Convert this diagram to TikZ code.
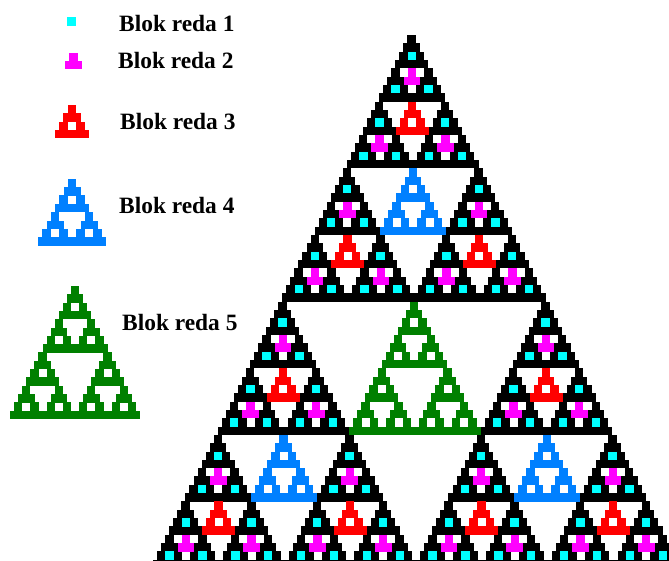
\documentclass[tikz,border=0pt]{standalone}
\usepackage{fontspec}
\setmainfont{Liberation Serif}
\usepackage{tikz}

\definecolor{blok4}{RGB}{0,255,255}
\definecolor{blok8}{RGB}{255,0,255}
\definecolor{blok16}{RGB}{255,0,0}
\definecolor{blok32}{RGB}{0,128,255}
\definecolor{blok64}{RGB}{0,128,0}

\def\lean{0}

% size, x (half cells), y (rows), colour
\newcommand{\sierp}[4]{%
  \ifnum\numexpr#1\relax=1
    \fill[#4] ({(#2)/2-0.5+\lean*(#3)},{#3}) rectangle ++(1.02,1.02);
  \else
    \sierp{(#1)/2}{#2}{#3}{#4}%
    \sierp{(#1)/2}{#2-(#1)/2}{#3+(#1)/2}{#4}%
    \sierp{(#1)/2}{#2+(#1)/2}{#3+(#1)/2}{#4}%
  \fi}

% black triangle, with a coloured block in the top of every hole
\newcommand{\pascalblok}[3]{%
  \ifnum\numexpr#1\relax=1
    \fill[black] ({(#2)/2-0.5+\lean*(#3)},{#3}) rectangle ++(1.02,1.02);
  \else
    \pascalblok{(#1)/2}{#2}{#3}%
    \pascalblok{(#1)/2}{#2-(#1)/2}{#3+(#1)/2}%
    \pascalblok{(#1)/2}{#2+(#1)/2}{#3+(#1)/2}%
    \ifnum\numexpr#1\relax>2
      \edef\blokcol{blok\the\numexpr#1\relax}%
      \sierp{(#1)/4}{#2}{#3+(#1)/2}{\blokcol}%
    \fi
  \fi}

\begin{document}
\begin{tikzpicture}[
    x=1pt,
    y=-1pt,
    bloklabel/.style={anchor=base west, inner sep=0pt, font=\fontsize{23.4}{27}\selectfont\bfseries},
    grid/.style n args={4}{shift={(#1,#2)}, x=#3pt, y=-#4pt}
]

    \useasboundingbox (0,0) rectangle (669,560);
    \clip (0,0) rectangle (669,560);

    % Main triangle (leans a little to the right)
    \begin{scope}[grid={411.5}{35}{8.22}{8.33}]
        \def\lean{0.0091}
        \pascalblok{64}{0}{0}
    \end{scope}

    % Legend blocks
    \begin{scope}[grid={71.5}{17.3}{8.4}{8.4}]
        \sierp{1}{0}{0}{blok4}
    \end{scope}
    \begin{scope}[grid={73.6}{52.7}{8.5}{8.3}]
        \sierp{2}{0}{0}{blok8}
    \end{scope}
    \begin{scope}[grid={72}{105}{8.65}{8.33}]
        \sierp{4}{0}{0}{blok16}
    \end{scope}
    \begin{scope}[grid={72}{178.7}{8.5}{8.37}]
        \sierp{8}{0}{0}{blok32}
    \end{scope}
    \begin{scope}[grid={75}{286}{8.125}{8.31}]
        \sierp{16}{0}{0}{blok64}
    \end{scope}

    % Legend labels
    \node[bloklabel] (lab1) at (119,31.5) {Blok reda 1};
    \node[bloklabel] (lab2) at (118,68) {Blok reda 2};
    \node[bloklabel] (lab3) at (120,129) {Blok reda 3};
    \node[bloklabel] (lab4) at (119,213) {Blok reda 4};
    \node[bloklabel] (lab5) at (122,330) {Blok reda 5};

\end{tikzpicture}
\end{document}
